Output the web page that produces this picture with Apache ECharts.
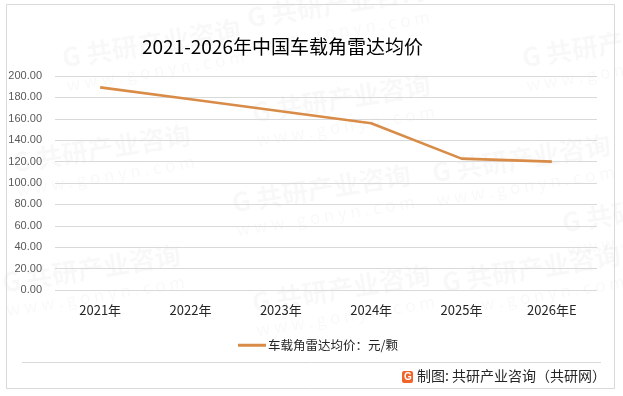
<!DOCTYPE html>
<html>
<head>
<meta charset="utf-8">
<script src="https://cdn.jsdelivr.net/npm/echarts@6/dist/echarts.min.js"></script>
<style>
  html, body { margin: 0; padding: 0; background: #fff; }
  #main { width: 623px; height: 396px; }
</style>
</head>
<body>
<div id="main"></div>
<script>
// 数据
var years = ['2021年', '2022年', '2023年', '2024年', '2025年', '2026年E'];
var prices = [189.4, 178.2, 167.0, 155.9, 122.8, 120.0];
var seriesName = '车载角雷达均价：元/颗';
var titleText = '2021-2026年中国车载角雷达均价';
var footText = '制图: 共研产业咨询（共研网）';

var font = '"Noto Sans CJK SC", "Microsoft YaHei", sans-serif';

// 水印
var marks = [
  [60, 45], [245, 5], [520, 45], [250, 100], [10, 150], [230, 190],
  [430, 160], [560, 210], [250, 290], [440, 270], [0, 270]
];
var wm = [];
for (var i = 0; i < marks.length; i++) {
  wm.push({
    type: 'group', x: marks[i][0], y: marks[i][1], rotation: 0.16, silent: true, z: 0,
    children: [
      { type: 'text', style: { text: 'G 共研产业咨询', font: 'bold 26px ' + font, fill: 'rgba(0,0,0,0.028)' } },
      { type: 'text', y: 32, style: { text: 'w w w . g o n y n . c o m', font: '17px ' + font, fill: 'rgba(0,0,0,0.028)' } }
    ]
  });
}

var option = {
  backgroundColor: '#fff',
  animation: false,
  title: {
    text: titleText,
    left: 137,
    top: 32,
    textStyle: { fontFamily: font, fontSize: 19, fontWeight: 'normal', color: '#000' }
  },
  grid: { left: 55, right: 26, top: 76, bottom: 106, containLabel: false },
  legend: {
    data: [seriesName],
    left: 233,
    top: 334,
    itemWidth: 28,
    itemHeight: 3,
    itemGap: 4,
    icon: 'rect',
    textStyle: { fontFamily: font, fontSize: 12.5, color: '#262626', padding: [0, 0, 0, -3] }
  },
  xAxis: {
    type: 'category',
    data: years,
    boundaryGap: true,
    axisLine: { show: false },
    axisTick: { show: false },
    axisLabel: { margin: 14, fontFamily: font, fontSize: 13, color: '#262626' }
  },
  yAxis: {
    type: 'value',
    min: 0,
    max: 200,
    interval: 20,
    axisLine: { show: false },
    axisTick: { show: false },
    splitLine: { lineStyle: { color: '#d9d9d9', width: 1 } },
    axisLabel: {
      margin: 13,
      fontFamily: 'Arial, "Liberation Sans", sans-serif',
      fontSize: 11,
      color: '#595959',
      formatter: function (v) { return v.toFixed(2); }
    }
  },
  series: [{
    name: seriesName,
    type: 'line',
    data: prices,
    symbol: 'none',
    lineStyle: { color: '#D98B48', width: 2.6 },
    itemStyle: { color: '#D98B48' }
  }],
  graphic: wm.concat([
    { type: 'rect', shape: { x: 6.5, y: 4.5, width: 608, height: 384 }, style: { fill: 'none', stroke: '#d9d9d9', lineWidth: 1 }, silent: true },
    { type: 'line', shape: { x1: 22, y1: 362.5, x2: 601, y2: 362.5 }, style: { stroke: '#d9d9d9', lineWidth: 1 }, silent: true },
    { type: 'rect', shape: { x: 402, y: 371, width: 11, height: 12, r: 2 }, style: { fill: '#F0642A' }, silent: true },
    { type: 'text', x: 404, y: 372, style: { text: 'G', font: 'bold 10px Arial', fill: '#fff' }, silent: true },
    { type: 'text', x: 417, y: 369, style: { text: footText, font: '14px ' + font, fill: '#262626' }, silent: true }
  ])
};

var myChart = echarts.init(document.getElementById('main'));
myChart.setOption(option);
</script>
</body>
</html>
